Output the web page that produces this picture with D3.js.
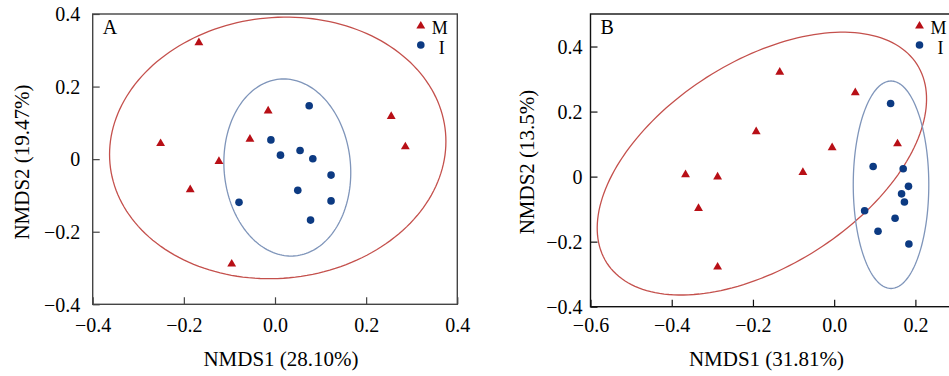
<!DOCTYPE html>
<html>
<head>
<meta charset="utf-8">
<script src="https://cdn.jsdelivr.net/npm/d3@7"></script>
<style>
  body { margin: 0; background: #fff; }
  text { font-family: "Liberation Serif", "Times New Roman", serif; fill: #000; }
</style>
</head>
<body>
<svg id="chart" width="949" height="376"></svg>
<script>
// Panel A points [NMDS1, NMDS2]
const mPointsA = [[-0.167, 0.321], [-0.015, 0.133], [-0.055, 0.055], [-0.251, 0.043], [-0.123, -0.006],
                  [-0.186, -0.084], [-0.095, -0.289], [0.255, 0.118], [0.286, 0.034]];
const iPointsA = [[0.075, 0.147], [-0.009, 0.053], [0.012, 0.011], [0.055, 0.024], [0.083, 0.001],
                  [0.123, -0.044], [0.050, -0.086], [0.123, -0.115], [0.078, -0.168], [-0.079, -0.119]];
// Panel B points
const mPointsB = [[-0.134, 0.321], [0.052, 0.258], [-0.192, 0.138], [-0.005, 0.089], [0.156, 0.101],
                  [-0.077, 0.013], [-0.366, 0.006], [-0.287, -0.001], [-0.334, -0.098], [-0.287, -0.278]];
const iPointsB = [[0.139, 0.225], [0.096, 0.031], [0.170, 0.024], [0.183, -0.030], [0.166, -0.053],
                  [0.173, -0.078], [0.075, -0.105], [0.150, -0.128], [0.108, -0.168], [0.184, -0.207]];

// ellipses: [cx, cy, ux, uy, vx, vy] (centre and two conjugate semi-axes, data units)
const mEllipseA = [0.006, 0.031, 0.369, 0.018, 0.000, 0.360];
const iEllipseA = [0.027, -0.023, 0.139, 0.000, -0.008, 0.244];
const mEllipseB = [-0.178, 0.040, 0.382, 0.305, -0.136, 0.265];
const iEllipseB = [0.140, -0.025, 0.093, 0.000, 0.000, 0.319];

// ticks
const xTicksA = [-0.4, -0.2, 0, 0.2, 0.4];
const xLabelsA = ["\u22120.4", "\u22120.2", "0.0", "0.2", "0.4"];
const yTicksA = [-0.4, -0.2, 0, 0.2, 0.4];
const yLabelsA = ["\u22120.4", "\u22120.2", "0", "0.2", "0.4"];
const xTicksB = [-0.6, -0.4, -0.2, 0, 0.2];
const xLabelsB = ["\u22120.6", "\u22120.4", "\u22120.2", "0.0", "0.2"];
const yTicksB = [-0.4, -0.2, 0, 0.2, 0.4];
const yLabelsB = ["\u22120.4", "\u22120.2", "0", "0.2", "0.4"];

const groups = ["M", "I"];

const svg = d3.select("#chart");
const redMark = "#b80f16", blueMark = "#0c3a82";
const redLine = "#c4504c", blueLine = "#7f95ba";

function drawPanel(p) {
    const x = d3.scaleLinear().domain(p.xDomain).range([p.left, p.right]);
    const y = d3.scaleLinear().domain(p.yDomain).range([p.bottom, p.top]);

    // ellipses
    const line = d3.line().x(d => x(d[0])).y(d => y(d[1])).curve(d3.curveLinearClosed);
    [[p.mEllipse, redLine], [p.iEllipse, blueLine]].forEach(([e, col]) => {
        const pts = d3.range(0, 2 * Math.PI, Math.PI / 90).map(t =>
            [e[0] + e[2] * Math.cos(t) + e[4] * Math.sin(t), e[1] + e[3] * Math.cos(t) + e[5] * Math.sin(t)]);
        svg.append("path").attr("d", line(pts)).attr("fill", "none")
            .attr("stroke", col).attr("stroke-width", 1.3);
    });

    // points
    const tri = d3.symbol().type(d3.symbolTriangle).size(34);
    svg.append("g").selectAll("path").data(p.mPoints).join("path")
        .attr("d", tri)
        .attr("transform", d => "translate(" + x(d[0]) + "," + y(d[1]) + ")")
        .attr("fill", redMark);
    svg.append("g").selectAll("circle").data(p.iPoints).join("circle")
        .attr("cx", d => x(d[0])).attr("cy", d => y(d[1])).attr("r", 3.8)
        .attr("fill", blueMark);

    // axes (inward ticks)
    const gx = svg.append("g").attr("transform", "translate(0," + p.bottom + ")")
        .call(d3.axisBottom(x).tickValues(p.xTicks).tickSizeInner(-7).tickSizeOuter(0)
            .tickFormat((d, i) => p.xLabels[i]));
    gx.select(".domain").remove();
    gx.selectAll(".tick line").attr("stroke", p.frameColor).attr("stroke-width", 1.2);
    gx.selectAll(".tick text").attr("y", 332 - p.bottom).attr("dy", 0)
        .style("font-size", "20px").style("font-family", null);

    const gy = svg.append("g").attr("transform", "translate(" + p.left + ",0)")
        .call(d3.axisLeft(y).tickValues(p.yTicks).tickSizeInner(-7).tickSizeOuter(0)
            .tickFormat((d, i) => p.yLabels[i]));
    gy.select(".domain").remove();
    gy.selectAll(".tick line").attr("stroke", p.frameColor).attr("stroke-width", 1.2);
    gy.selectAll(".tick text").attr("x", -p.yGap).attr("dy", "0.34em")
        .style("font-size", "20px").style("font-family", null);
    svg.selectAll("g text").attr("fill", "#000");

    // frame
    svg.append("rect").attr("x", p.left).attr("y", p.top)
        .attr("width", p.right - p.left).attr("height", p.bottom - p.top)
        .attr("fill", "none").attr("stroke", p.frameColor).attr("stroke-width", 1.4);

    // panel letter
    svg.append("text").attr("x", p.left + 10).attr("y", 34).text(p.letter)
        .style("font-size", "20px");

    // legend
    const lx = p.right - 36.5;
    svg.append("path").attr("d", tri).attr("transform", "translate(" + lx + ",26)").attr("fill", redMark);
    svg.append("circle").attr("cx", lx).attr("cy", 45).attr("r", 3.8).attr("fill", blueMark);
    svg.append("text").attr("x", lx + 11).attr("y", 33.5).text(groups[0]).style("font-size", "18px");
    svg.append("text").attr("x", lx + 18).attr("y", 53.5).text(groups[1]).style("font-size", "18px");

    // axis titles
    svg.append("text").attr("x", p.xTitleX).attr("y", 366).attr("text-anchor", "middle")
        .text(p.xTitle).style("font-size", "21px");
    svg.append("text").attr("transform", "translate(" + p.yTitleX + ",162) rotate(-90)")
        .attr("text-anchor", "middle").attr("dy", "0.35em")
        .text(p.yTitle).style("font-size", "21px");
}

drawPanel({
    xDomain: [-0.4, 0.4], yDomain: [-0.4, 0.4],
    left: 92.7, right: 457.3, top: 14, bottom: 304.3,
    mPoints: mPointsA, iPoints: iPointsA, mEllipse: mEllipseA, iEllipse: iEllipseA,
    xTicks: xTicksA, xLabels: xLabelsA, yTicks: yTicksA, yLabels: yLabelsA,
    yGap: 12.5, frameColor: "#444", letter: "A",
    xTitle: "NMDS1 (28.10%)", xTitleX: 281, yTitle: "NMDS2 (19.47%)", yTitleX: 22
});

drawPanel({
    xDomain: [-0.6, 0.3], yDomain: [-0.4, 0.5],
    left: 590.5, right: 956, top: 14, bottom: 306.7,
    mPoints: mPointsB, iPoints: iPointsB, mEllipse: mEllipseB, iEllipse: iEllipseB,
    xTicks: xTicksB, xLabels: xLabelsB, yTicks: yTicksB, yLabels: yLabelsB,
    yGap: 8, frameColor: "#111", letter: "B",
    xTitle: "NMDS1 (31.81%)", xTitleX: 766.5, yTitle: "NMDS2 (13.5%)", yTitleX: 527
});
</script>
</body>
</html>
